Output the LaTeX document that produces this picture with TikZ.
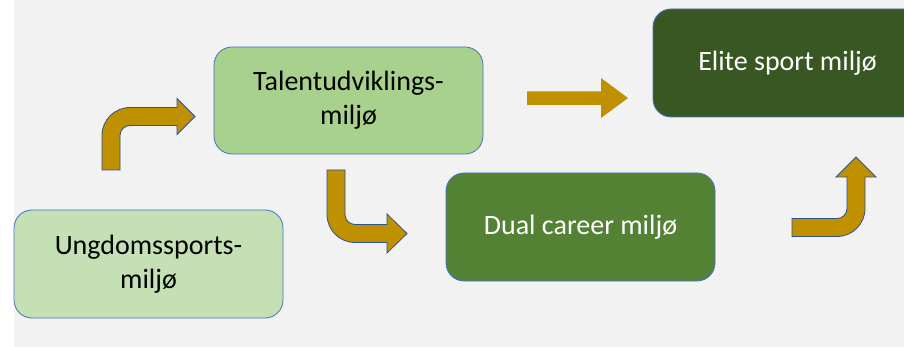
\documentclass[tikz,border=0pt]{standalone}
\usepackage{fontspec}
\setmainfont{Carlito}
\definecolor{canvas}{HTML}{F2F2F2}
\definecolor{youthfill}{HTML}{C5E0B4}
\definecolor{talentfill}{HTML}{A9D18E}
\definecolor{dualfill}{HTML}{548235}
\definecolor{elitefill}{HTML}{385723}
\definecolor{gold}{HTML}{BF9000}
\definecolor{boxline}{HTML}{4472C4}
\definecolor{arrowline}{HTML}{2F528F}
\tikzset{
  envbox/.style={rectangle, rounded corners=18pt, draw=boxline, line width=0.8pt,
    minimum width=269pt, minimum height=108pt, inner sep=0pt, align=center,
    font=\fontsize{28}{34}\selectfont},
  lightbox/.style={envbox, text=black},
  darkbox/.style={envbox, text=white},
  bentarrow/.style={fill=gold, draw=arrowline, line width=0.8pt, line join=miter},
  flatarrow/.style={fill=gold, draw=none}
}
\begin{document}
\begin{tikzpicture}[x=1pt, y=-1pt]
  % page and grey canvas
  \useasboundingbox (0,0) rectangle (904,347);
  \clip (0,0) rectangle (904,347);
  \fill[white] (0,0) rectangle (904,347);
  \fill[canvas] (14,0) rectangle (904,347);

  % environments
  \node[lightbox, fill=youthfill]  (youth)  at (148.5,264)   {Ungdomssports-\\miljø};
  \node[lightbox, fill=talentfill, minimum height=107pt] (talent) at (348.5,100.5) {Talentudviklings-\\miljø};
  \node[darkbox,  fill=dualfill]   (dual)   at (580.5,227)   {Dual career miljø};
  \node[darkbox,  fill=elitefill]  (elite)  at (787.5,63)    {Elite sport miljø};

  % youth -> talent: up, then right
  \path[bentarrow] (102,170) -- (102,135.5)
    .. controls (102,120) and (114.5,107.5) .. (130,107.5)
    -- (177,107.5) -- (177,98.5) -- (195,116.5) -- (177,134.5) -- (177,125.5)
    -- (130,125.5) .. controls (124.5,125.5) and (120,130) .. (120,135.5)
    -- (120,170) -- cycle;

  % talent -> dual career: down, then right
  \path[bentarrow] (327,170) -- (345,170) -- (345,214.5)
    .. controls (345,220) and (349.5,224.5) .. (355,224.5)
    -- (387,224.5) -- (387,214) -- (407,233.5) -- (387,253) -- (387,242.5)
    -- (355,242.5) .. controls (339.5,242.5) and (327,230) .. (327,214.5)
    -- cycle;

  % dual career -> elite: right, then up
  \path[bentarrow] (792,218.5) -- (837,218.5)
    .. controls (842.5,218.5) and (847,214) .. (847,208.5)
    -- (847,177) -- (836,177) -- (856,157) -- (876,177) -- (865,177)
    -- (865,208.5) .. controls (865,224) and (852.5,236.5) .. (837,236.5)
    -- (792,236.5) -- cycle;

  % talent -> elite: straight
  \path[flatarrow] (527,91.5) -- (601,91.5) -- (601,78) -- (628,98)
    -- (601,118) -- (601,105) -- (527,105) -- cycle;
\end{tikzpicture}
\end{document}
